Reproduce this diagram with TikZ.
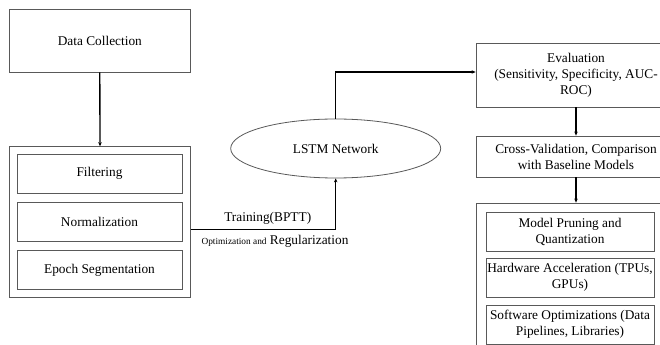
\documentclass[tikz,border=0pt]{standalone}
\usepackage{fontspec}
\setmainfont{Liberation Serif}
\usepackage{xcolor}
\usetikzlibrary{arrows.meta,shapes.geometric}

\begin{document}
\begin{tikzpicture}[x=0.75pt, y=-0.75pt,
    box/.style={draw=black!65, line width=0.6pt, fill=white, align=center, inner xsep=1pt,
                font=\fontsize{10}{12}\selectfont},
    conn/.style={line width=1pt, black},
    arr/.style={conn, -{Stealth[length=3pt, width=2.6pt]}}]
    \useasboundingbox (0,0) rectangle (660,345);
    \clip (0,0) rectangle (660,345);
    \fill[white] (0,0) rectangle (660,345);

    % left column
    \node[box, minimum width=136.3pt, minimum height=47.3pt] (collect) at (99.8,40.5) {Data Collection};
    \node[box, minimum width=136pt, minimum height=113.3pt] (prep) at (100,222.2) {};
    \node[box, minimum width=123.75pt, minimum height=29.25pt] (filter) at (99.5,173.5) {Filtering};
    \node[box, minimum width=123.75pt, minimum height=29.25pt] (norm) at (99.5,221.8) {Normalization};
    \node[box, minimum width=123.75pt, minimum height=29.25pt] (epoch) at (99.5,270) {Epoch Segmentation};

    % middle
    \node[box, ellipse, minimum width=157.5pt, minimum height=44.25pt] (lstm) at (335.7,148.5) {LSTM Network};

    % right column
    \node[box, minimum width=150pt, minimum height=48pt] (eval) at (576,75)
        {Evaluation\\(Sensitivity, Specificity, AUC-\\ROC)};
    \node[box, minimum width=150pt, minimum height=30.75pt] (cv) at (576,156.5)
        {Cross-Validation, Comparison\\with Baseline Models};
    \node[box, minimum width=150pt, minimum height=117.75pt] (optim) at (576,281.5) {};
    \node[box, minimum width=126pt, minimum height=29.25pt] (prune) at (570,232.2)
        {Model Pruning and\\Quantization};
    \node[box, minimum width=126pt, minimum height=29.25pt] (hw) at (570,277.5)
        {Hardware Acceleration (TPUs,\\GPUs)};
    \node[box, minimum width=126pt, minimum height=29.25pt] (sw) at (570,324.5)
        {Software Optimizations (Data\\Pipelines, Libraries)};

    % connectors
    \coordinate (bendlow) at (335.7,229.3);
    \coordinate (bendtop) at (335.7,72);
    \draw[arr] (collect.south) -- (prep.north);
    \draw[arr] (prep.east |- bendlow) -- (bendlow)
        node[pos=0.53, above, font=\fontsize{10}{12}\selectfont] (train) {Training(BPTT)}
        -- (lstm.south);
    \node[anchor=north, inner sep=2pt, font=\fontsize{10}{12}\selectfont] (reg) at (275,232.5)
        {{\fontsize{7}{8}\selectfont Optimization and} Regularization};
    \draw[arr] (lstm.north) -- (bendtop) -- (bendtop -| eval.west);
    \draw[arr] (eval.south) -- (cv.north);
    \draw[arr] (cv.south) -- (optim.north);
\end{tikzpicture}
\end{document}
